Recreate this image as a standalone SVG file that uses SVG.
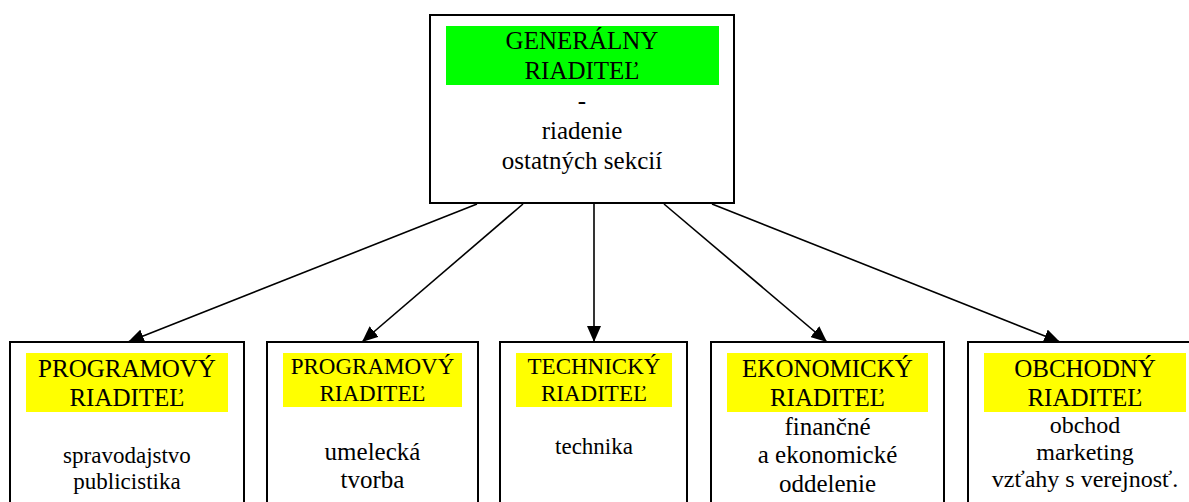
<svg xmlns="http://www.w3.org/2000/svg" width="1189" height="502" viewBox="0 0 1189 502">
<defs>
<style>
.box{fill:#fff;stroke:#000;stroke-width:2}
.hl{fill:#ffff00}
.g{fill:#00ff00}
text{fill:#000;text-anchor:middle}
.conn line{stroke:#000;stroke-width:1.6}
</style>
<marker id="ah" markerUnits="userSpaceOnUse" markerWidth="18" markerHeight="14" refX="16" refY="7" orient="auto">
<path d="M0,0 L16,7 L0,14 Z" fill="#000"/>
</marker>
</defs>
<rect width="1189" height="502" fill="#fff"/>

<g font-family="Liberation Serif, Times New Roman, Tinos, DejaVu Serif, serif">
<g id="gen">
<rect class="box" x="430" y="15" width="304" height="188"/>
<rect class="g" x="446" y="26" width="273" height="59"/>
<text x="582" y="49" font-size="25">GENERÁLNY</text>
<text x="582" y="79" font-size="25">RIADITEĽ</text>
<text x="582" y="109" font-size="25">-</text>
<text x="582" y="139" font-size="25">riadenie</text>
<text x="582" y="169" font-size="25">ostatných sekcií</text>
</g>

<g id="prog1">
<rect class="box" x="10" y="342" width="234" height="180"/>
<rect class="hl" x="26" y="353" width="202" height="59"/>
<text x="127" y="377" font-size="25">PROGRAMOVÝ</text>
<text x="127" y="406" font-size="25">RIADITEĽ</text>
<text x="127" y="463" font-size="23">spravodajstvo</text>
<text x="127" y="489" font-size="23">publicistika</text>
</g>

<g id="prog2">
<rect class="box" x="267" y="342" width="211" height="180"/>
<rect class="hl" x="283" y="353" width="179" height="54"/>
<text x="372.5" y="374" font-size="23">PROGRAMOVÝ</text>
<text x="372.5" y="401" font-size="23">RIADITEĽ</text>
<text x="372.5" y="460" font-size="25">umelecká</text>
<text x="372.5" y="488" font-size="25">tvorba</text>
</g>

<g id="tech">
<rect class="box" x="500" y="342" width="187" height="180"/>
<rect class="hl" x="516" y="353" width="156" height="54"/>
<text x="594" y="374" font-size="23">TECHNICKÝ</text>
<text x="594" y="401" font-size="23">RIADITEĽ</text>
<text x="594" y="454" font-size="23">technika</text>
</g>

<g id="eko">
<rect class="box" x="711" y="342" width="233" height="180"/>
<rect class="hl" x="727" y="353" width="201" height="59"/>
<text x="827.5" y="377" font-size="25">EKONOMICKÝ</text>
<text x="827.5" y="406" font-size="25">RIADITEĽ</text>
<text x="827.5" y="435" font-size="25">finančné</text>
<text x="827.5" y="463" font-size="25">a ekonomické</text>
<text x="827.5" y="492" font-size="25">oddelenie</text>
</g>

<g id="obch">
<rect class="box" x="968" y="342" width="234" height="180"/>
<rect class="hl" x="984" y="353" width="202" height="59"/>
<text x="1085" y="377" font-size="25">OBCHODNÝ</text>
<text x="1085" y="406" font-size="25">RIADITEĽ</text>
<text x="1085" y="433" font-size="24">obchod</text>
<text x="1085" y="460" font-size="24">marketing</text>
<text x="1085" y="487" font-size="24">vzťahy s verejnosť.</text>
</g>
</g>

<g id="connectors" class="conn">
<line x1="477" y1="204" x2="128" y2="342" marker-end="url(#ah)"/>
<line x1="523" y1="204" x2="362" y2="342" marker-end="url(#ah)"/>
<line x1="594" y1="204" x2="594" y2="342" marker-end="url(#ah)"/>
<line x1="664" y1="204" x2="827" y2="342" marker-end="url(#ah)"/>
<line x1="712" y1="204" x2="1060" y2="342" marker-end="url(#ah)"/>
</g>
</svg>
